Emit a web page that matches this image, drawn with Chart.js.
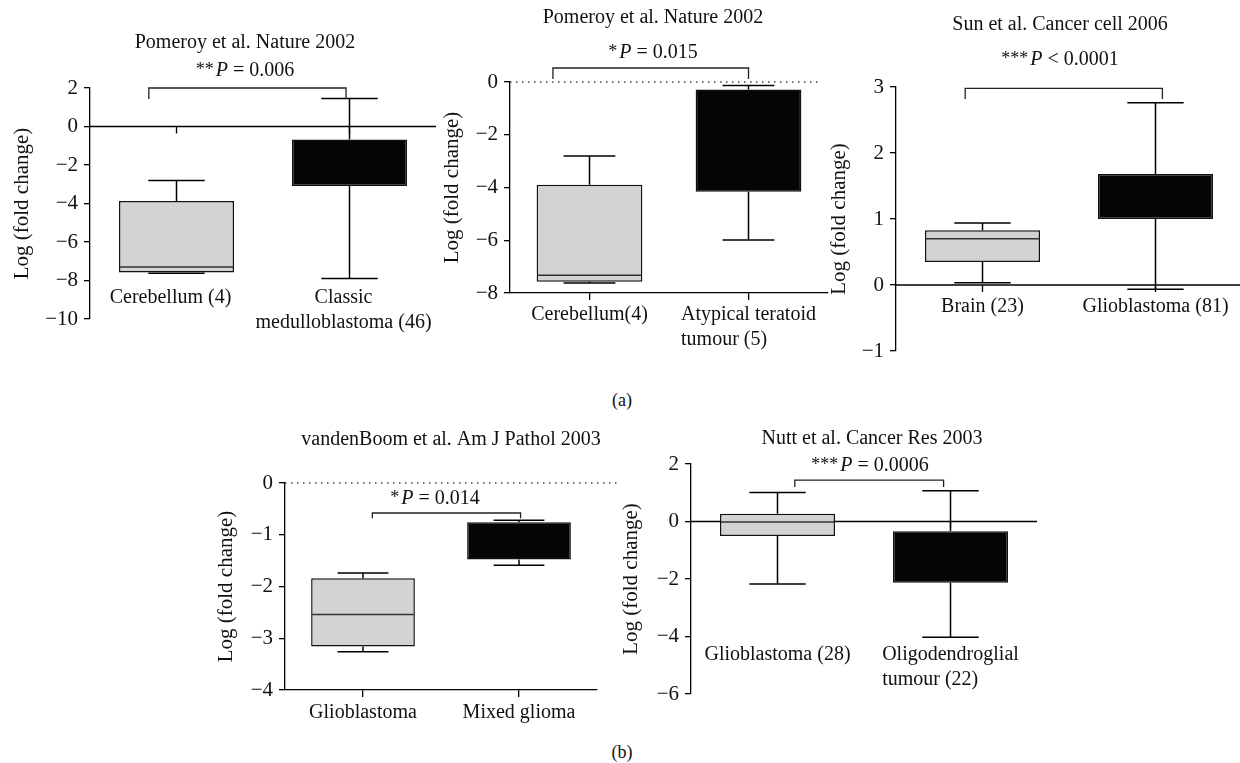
<!DOCTYPE html>
<html>
<head>
<meta charset="utf-8">
<script src="https://cdn.jsdelivr.net/npm/chart.js@4.4.1/dist/chart.umd.min.js"></script>
<style>
  html, body { margin: 0; padding: 0; background: #fff; }
  #fig { position: relative; width: 1240px; height: 763px; overflow: hidden; }
  #fig canvas { position: absolute; }
  .tag { position: absolute; font: 18px "Liberation Serif", serif; color: #111; transform: translate(-50%, -50%); }
</style>
</head>
<body>
<div id="fig">
  <div class="tag" style="left:622px;top:400px">(a)</div>
  <div class="tag" style="left:622px;top:752px">(b)</div>
</div>
<script>
// Panel 1 - Pomeroy, classic medulloblastoma
const p1Labels = [['Cerebellum (4)'], ['Classic', 'medulloblastoma (46)']];
const p1Min = [-7.62, -7.89];
const p1Q1 = [-7.58, -3.09];
const p1Median = [-7.3, null];
const p1Q3 = [-3.87, -0.67];
const p1Max = [-2.8, 1.45];
const p1YTicks = [-10, -8, -6, -4, -2, 0, 2];

// Panel 2 - Pomeroy, atypical teratoid
const p2Labels = [['Cerebellum(4)'], ['Atypical teratoid', 'tumour (5)']];
const p2Min = [-7.62, -5.99];
const p2Q1 = [-7.57, -4.16];
const p2Median = [-7.33, null];
const p2Q3 = [-3.9, -0.28];
const p2Max = [-2.81, -0.13];
const p2YTicks = [-8, -6, -4, -2, 0];

// Panel 3 - Sun, glioblastoma
const p3Labels = [['Brain (23)'], ['Glioblastoma (81)']];
const p3Min = [0.035, -0.065];
const p3Q1 = [0.35, 1.0];
const p3Median = [0.7, null];
const p3Q3 = [0.83, 1.68];
const p3Max = [0.94, 2.76];
const p3YTicks = [-1, 0, 1, 2, 3];

// Panel 4 - vandenBoom, mixed glioma
const p4Labels = [['Glioblastoma'], ['Mixed glioma']];
const p4Min = [-3.26, -1.59];
const p4Q1 = [-3.16, -1.48];
const p4Median = [-2.54, null];
const p4Q3 = [-1.84, -0.76];
const p4Max = [-1.74, -0.72];
const p4YTicks = [-4, -3, -2, -1, 0];

// Panel 5 - Nutt, oligodendroglial
const p5Labels = [['Glioblastoma (28)'], ['Oligodendroglial', 'tumour (22)']];
const p5Min = [-2.17, -4.03];
const p5Q1 = [-0.5, -2.13];
const p5Median = [-0.02, null];
const p5Q3 = [0.27, -0.34];
const p5Max = [1.01, 1.07];
const p5YTicks = [-6, -4, -2, 0, 2];

const FONT = '"Liberation Serif", "Times New Roman", serif';
const PAD = { left: 100, top: 90, right: 30, bottom: 80 };

function minus(v) {
  return v < 0 ? '\u2212' + Math.abs(v) : String(v);
}

function drawP(ctx, cx, cy, stars, rest) {
  ctx.font = '18px ' + FONT;
  const ws = ctx.measureText(stars).width;
  ctx.font = 'italic 20px ' + FONT;
  const wp = ctx.measureText('P').width;
  ctx.font = '20px ' + FONT;
  const wr = ctx.measureText(rest).width;
  let x0 = cx - (ws + 2 + wp + wr) / 2;
  ctx.textAlign = 'left';
  ctx.font = '18px ' + FONT;
  ctx.fillText(stars, x0, cy - 1);
  x0 += ws + 2;
  ctx.font = 'italic 20px ' + FONT;
  ctx.fillText('P', x0, cy);
  x0 += wp;
  ctx.font = '20px ' + FONT;
  ctx.fillText(rest, x0, cy);
}

function extras(cfg, d) {
  return {
    id: 'extras',
    beforeDatasetsDraw(chart) {
      const { ctx, chartArea: a, scales: { x, y } } = chart;
      const y0 = y.getPixelForValue(0);
      ctx.save();
      ctx.strokeStyle = '#000';
      ctx.lineWidth = 1.3;
      if (cfg.zero === 'dotted') {
        ctx.setLineDash([1.5, 4.5]);
        ctx.strokeStyle = '#444';
      }
      ctx.beginPath();
      ctx.moveTo(a.left, y0);
      ctx.lineTo(a.right + cfg.zeroExt, y0);
      ctx.stroke();
      ctx.setLineDash([]);
      if (cfg.zero === 'solid') {
        d.labels.forEach((_, i) => {
          const px = x.getPixelForValue(i);
          ctx.beginPath();
          ctx.moveTo(px, y0);
          ctx.lineTo(px, y0 + 7);
          ctx.stroke();
        });
      }
      ctx.restore();
    },
    afterDatasetsDraw(chart) {
      const { ctx, chartArea: a, scales: { x, y } } = chart;
      const bars = chart.getDatasetMeta(0).data;
      ctx.save();
      ctx.strokeStyle = '#000';
      ctx.lineWidth = 1.5;
      d.labels.forEach((_, i) => {
        const cx = x.getPixelForValue(i);
        const half = bars[i].width * 0.245;
        [[d.q3[i], d.max[i]], [d.q1[i], d.min[i]]].forEach(([from, to]) => {
          const yt = y.getPixelForValue(to);
          ctx.beginPath();
          ctx.moveTo(cx, y.getPixelForValue(from));
          ctx.lineTo(cx, yt);
          ctx.moveTo(cx - half, yt);
          ctx.lineTo(cx + half, yt);
          ctx.stroke();
        });
        if (d.median[i] !== null) {
          const ym = y.getPixelForValue(d.median[i]);
          ctx.strokeStyle = '#333';
          ctx.beginPath();
          ctx.moveTo(bars[i].x - bars[i].width / 2 + 1, ym);
          ctx.lineTo(bars[i].x + bars[i].width / 2 - 1, ym);
          ctx.stroke();
          ctx.strokeStyle = '#000';
        }
      });

      // significance bracket
      const b = cfg.bracket;
      const xl = x.getPixelForValue(b.from), xr = x.getPixelForValue(b.to);
      const yt = y.getPixelForValue(b.top), yl = y.getPixelForValue(b.leg);
      ctx.lineWidth = 1.3;
      ctx.strokeStyle = '#222';
      ctx.beginPath();
      ctx.moveTo(xl, yl);
      ctx.lineTo(xl, yt);
      ctx.lineTo(xr, yt);
      ctx.lineTo(xr, yl);
      ctx.stroke();

      // texts
      ctx.fillStyle = '#111';
      ctx.textBaseline = 'middle';
      ctx.textAlign = 'center';
      ctx.font = '20px ' + FONT;
      ctx.fillText(cfg.title, a.left + cfg.titlePos[0], a.top + cfg.titlePos[1]);
      drawP(ctx, a.left + cfg.pPos[0], a.top + cfg.pPos[1], cfg.stars, cfg.pText);

      ctx.font = '20px ' + FONT;
      d.labels.forEach((lines, i) => {
        const cx = x.getPixelForValue(i) + cfg.labelDx;
        let lx = cx;
        if (cfg.labelAlign === 'left' && lines.length > 1) {
          const w = Math.max(...lines.map(t => ctx.measureText(t).width));
          lx = cx - w / 2;
          ctx.textAlign = 'left';
        } else {
          ctx.textAlign = 'center';
        }
        lines.forEach((t, k) => ctx.fillText(t, lx, a.top + cfg.labelY + k * 25));
      });
      ctx.restore();
    }
  };
}

function makePanel(cfg, d) {
  const c = document.createElement('canvas');
  const w = (cfg.area.right - cfg.area.left) + PAD.left + PAD.right;
  const h = (cfg.area.bottom - cfg.area.top) + PAD.top + PAD.bottom;
  c.width = w;
  c.height = h;
  c.style.width = w + 'px';
  c.style.height = h + 'px';
  c.style.left = (cfg.area.left - PAD.left) + 'px';
  c.style.top = (cfg.area.top - PAD.top) + 'px';
  document.getElementById('fig').appendChild(c);

  const ticks = d.yTicks;
  new Chart(c.getContext('2d'), {
    type: 'bar',
    data: {
      labels: d.labels.map(l => l.join(' ')),
      datasets: [{
        data: d.q1.map((v, i) => [v, d.q3[i]]),
        backgroundColor: ['#d3d3d3', '#050505'],
        borderColor: '#111',
        borderWidth: 1.5,
        borderSkipped: false,
        barPercentage: 0.665,
        categoryPercentage: 1
      }]
    },
    options: {
      responsive: false,
      devicePixelRatio: 1,
      animation: false,
      layout: { padding: { left: 0, top: PAD.top, right: PAD.right, bottom: PAD.bottom } },
      plugins: { legend: { display: false }, tooltip: { enabled: false } },
      scales: {
        x: {
          display: cfg.xAxis,
          offset: true,
          afterFit: s => { s.height = 0; },
          border: { display: true, color: '#000', width: 1.3 },
          grid: { display: true, drawOnChartArea: false, drawTicks: true, tickLength: 7, offset: false, color: '#000', lineWidth: 1.3 },
          ticks: { display: false }
        },
        y: {
          min: ticks[0],
          max: ticks[ticks.length - 1],
          afterFit: s => { s.width = PAD.left; },
          border: { display: true, color: '#000', width: 1.3 },
          grid: { drawOnChartArea: false, drawTicks: true, tickLength: 6, color: '#000', lineWidth: 1.3 },
          ticks: {
            stepSize: ticks[1] - ticks[0],
            padding: 6,
            color: '#111',
            font: { family: FONT, size: 21 },
            callback: v => minus(v)
          },
          title: {
            display: true,
            text: 'Log (fold change)',
            color: '#111',
            font: { family: FONT, size: 21 },
            padding: { top: cfg.yTitlePad, bottom: 0 }
          }
        }
      }
    },
    plugins: [extras(cfg, d)]
  });
}

makePanel({
  area: { left: 90, top: 88, right: 436, bottom: 319 },
  title: 'Pomeroy et al. Nature 2002', titlePos: [155, -45],
  stars: '**', pText: ' = 0.006', pPos: [155, -17],
  bracket: { from: -0.16, to: 0.98, top: 2.0, leg: 1.43 },
  labelY: 210, labelAlign: 'center', labelDx: -6,
  zero: 'solid', zeroExt: 0, xAxis: false, yTitlePad: 20
}, { labels: p1Labels, min: p1Min, q1: p1Q1, median: p1Median, q3: p1Q3, max: p1Max, yTicks: p1YTicks });

makePanel({
  area: { left: 510, top: 82, right: 828, bottom: 293 },
  title: 'Pomeroy et al. Nature 2002', titlePos: [143, -64],
  stars: '*', pText: ' = 0.015', pPos: [143, -29],
  bracket: { from: -0.23, to: 1.0, top: 0.53, leg: 0.11 },
  labelY: 233, labelAlign: 'left', labelDx: 0,
  zero: 'dotted', zeroExt: -8, xAxis: true, yTitlePad: 30
}, { labels: p2Labels, min: p2Min, q1: p2Q1, median: p2Median, q3: p2Q3, max: p2Max, yTicks: p2YTicks });

makePanel({
  area: { left: 896, top: 87, right: 1242, bottom: 351 },
  title: 'Sun et al. Cancer cell 2006', titlePos: [164, -62],
  stars: '***', pText: ' < 0.0001', pPos: [164, -27],
  bracket: { from: -0.1, to: 1.04, top: 2.98, leg: 2.82 },
  labelY: 220, labelAlign: 'center', labelDx: 0,
  zero: 'solid', zeroExt: 0, xAxis: false, yTitlePad: 31
}, { labels: p3Labels, min: p3Min, q1: p3Q1, median: p3Median, q3: p3Q3, max: p3Max, yTicks: p3YTicks });

makePanel({
  area: { left: 285, top: 483, right: 597, bottom: 690 },
  title: 'vandenBoom et al. Am J Pathol 2003', titlePos: [166, -43],
  stars: '*', pText: ' = 0.014', pPos: [150, 16],
  bracket: { from: 0.06, to: 1.01, top: -0.58, leg: -0.68 },
  labelY: 230, labelAlign: 'center', labelDx: 0,
  zero: 'dotted', zeroExt: 20, xAxis: true, yTitlePad: 29
}, { labels: p4Labels, min: p4Min, q1: p4Q1, median: p4Median, q3: p4Q3, max: p4Max, yTicks: p4YTicks });

makePanel({
  area: { left: 691, top: 464, right: 1037, bottom: 694 },
  title: 'Nutt et al. Cancer Res 2003', titlePos: [181, -25],
  stars: '***', pText: ' = 0.0006', pPos: [179, 2],
  bracket: { from: 0.1, to: 0.96, top: 1.44, leg: 1.2 },
  labelY: 191, labelAlign: 'left', labelDx: 0,
  zero: 'solid', zeroExt: 0, xAxis: false, yTitlePad: 28
}, { labels: p5Labels, min: p5Min, q1: p5Q1, median: p5Median, q3: p5Q3, max: p5Max, yTicks: p5YTicks });
</script>
</body>
</html>
